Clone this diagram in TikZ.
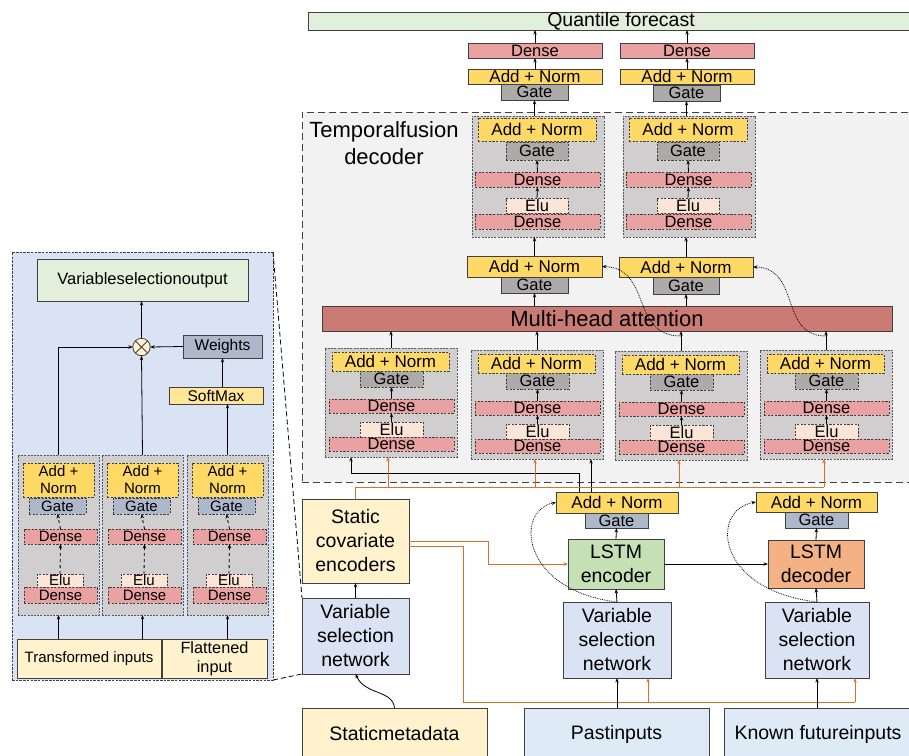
\documentclass[tikz,border=0pt]{standalone}
\usepackage{fontspec}
\setmainfont{Liberation Sans}
\usetikzlibrary{arrows.meta,calc}

\definecolor{cAdd}{HTML}{FFD966}
\definecolor{cGateG}{HTML}{AEAAAA}
\definecolor{cGateB}{HTML}{ADB9CA}
\definecolor{cDense}{HTML}{E9A1A1}
\definecolor{cElu}{HTML}{FBE5D6}
\definecolor{cGrn}{HTML}{D0CECE}
\definecolor{cDec}{HTML}{F2F2F2}
\definecolor{cAtt}{HTML}{CB7B74}
\definecolor{cOut}{HTML}{E2EFDA}
\definecolor{cEnc}{HTML}{C5E0B4}
\definecolor{cDecL}{HTML}{F4B183}
\definecolor{cVsn}{HTML}{DAE3F3}
\definecolor{cIn}{HTML}{DEEBF7}
\definecolor{cStat}{HTML}{FFF2CC}
\definecolor{cSoft}{HTML}{FFE699}
\definecolor{cOr}{HTML}{D4712E}
\definecolor{bord}{HTML}{404040}

\newcommand\fsz[2]{\fontsize{#1}{#2}\selectfont}
% box from corner (x1,y1) to corner (x2,y2)
\newcommand\bx[7]{\node[#2, minimum width={(#5)-(#3)}, minimum height={(#6)-(#4)}] (#1) at ({((#3)+(#5))/2},{((#4)+(#6))/2}) {#7};}

% gated residual network inside the temporal fusion decoder (lower row)
\newcommand\lgrn[3]{%
  \bx{#1}{grnbg}{#2}{#3}{#2+132}{#3+109}{}
  \bx{#1a}{dbx,an,fA}{#2+7}{#3+4}{#2+124}{#3+23}{Add + Norm}
  \bx{#1g}{dbx,gg,fB}{#2+35}{#3+23}{#2+98}{#3+39}{Gate}
  \bx{#1d}{dbx,de,fB}{#2+4}{#3+51}{#2+129}{#3+65}{Dense}
  \bx{#1e}{dbx,el,fB}{#2+35}{#3+74}{#2+98}{#3+89}{Elu}
  \bx{#1f}{dbx,de,fB}{#2+4}{#3+89}{#2+129}{#3+103}{Dense}
  \draw[arr] (#1d.north) -- (#1g.south);
  \draw[arr] (#1e.north) -- (#1d.south);
}
% gated residual network (upper row)
\newcommand\ugrn[3]{%
  \bx{#1}{grnbg}{#2}{#3}{#2+132}{#3+121}{}
  \bx{#1a}{dbx,an,fA}{#2+6}{#3+2}{#2+124}{#3+25}{Add + Norm}
  \bx{#1g}{dbx,gg,fB}{#2+34}{#3+26}{#2+96}{#3+44}{Gate}
  \bx{#1d}{dbx,de,fB}{#2+3}{#3+56}{#2+128}{#3+71}{Dense}
  \bx{#1e}{dbx,el,fB}{#2+34}{#3+82}{#2+96}{#3+97}{Elu}
  \bx{#1f}{dbx,de,fB}{#2+3}{#3+98}{#2+128}{#3+113}{Dense}
  \draw[arr] (#1d.north) -- (#1g.south);
  \draw[arr] (#1e.north) -- (#1d.south);
}
% gated residual network inside the variable selection panel
\newcommand\pgrn[3]{%
  \bx{#1}{grnbg}{#2}{#3}{#2+81}{#3+160}{}
  \bx{#1a}{dbx,an,fP}{#2+5}{#3+8}{#2+76}{#3+42}{Add +\\Norm}
  \bx{#1g}{dbx,gb,fP}{#2+11}{#3+43}{#2+68}{#3+59}{Gate}
  \bx{#1d}{dbx,de,fP}{#2+6}{#3+74}{#2+79}{#3+89}{Dense}
  \bx{#1e}{dbx,el,fP}{#2+19}{#3+119}{#2+65}{#3+132}{Elu}
  \bx{#1f}{dbx,de,fP}{#2+6}{#3+132}{#2+79}{#3+148}{Dense}
  \draw[arr,dashed] (#1d.north) -- (#1g.south);
  \draw[arr,dashed] (#1e.north) -- (#1d.south);
}

\begin{document}
\begin{tikzpicture}[x=1pt,y=-1pt,
  box/.style={draw=bord, line width=0.8pt, inner sep=0pt, outer sep=0pt, align=center},
  dbx/.style={box, dash pattern=on 2.2pt off 1.4pt},
  grnbg/.style={box, fill=cGrn, draw=black!65, dash pattern=on 2pt off 1.2pt},
  an/.style={fill=cAdd}, gg/.style={fill=cGateG}, gb/.style={fill=cGateB},
  de/.style={fill=cDense}, el/.style={fill=cElu},
  fA/.style={font=\fsz{17}{20}},
  fB/.style={font=\fsz{16.5}{19}},
  fP/.style={font=\fsz{15}{17}},
  fL/.style={font=\fsz{19.5}{24}},
  arr/.style={-{Stealth[length=4.5pt,width=3.4pt]}, line width=0.8pt, draw=black},
  oline/.style={line width=1pt, draw=cOr},
  oarr/.style={oline, -{Stealth[length=4.5pt,width=3.4pt]}},
  dotarr/.style={densely dotted, line width=0.8pt, -{Stealth[length=4.5pt,width=3.4pt]}},
  link/.style={line width=0.8pt, dash pattern=on 5pt off 3pt}
]
\useasboundingbox (0,0) rectangle (909,755);

% ---------- temporal fusion decoder ----------
\bx{dec}{box, fill=cDec, draw=black!75, line width=1pt, dash pattern=on 7pt off 4pt}{302}{112}{915}{482}{}
\node[font=\fsz{22}{27}, align=center] (dectitle) at (384,143) {Temporalfusion\\decoder};

\bx{qf}{box, fill=cOut, font=\fsz{19.5}{22}}{308}{12}{934}{30}{Quantile forecast}

\bx{tdL}{box,de,fB}{468}{43}{602}{58}{Dense}
\bx{tdR}{box,de,fB}{620}{43}{754}{58}{Dense}
\bx{taL}{box,an,fA}{468}{69}{602}{84}{Add + Norm}
\bx{taR}{box,an,fA}{620}{69}{754}{84}{Add + Norm}
\bx{tgL}{box,gg,fB}{501}{84}{568}{100}{Gate}
\bx{tgR}{box,gg,fB}{653}{85}{720}{101}{Gate}

\ugrn{uL}{472}{116}
\ugrn{uR}{623}{116}

\bx{maL}{box,an,fA}{467}{256}{602}{277}{Add + Norm}
\bx{mgL}{box,gg,fB}{501}{277}{568}{293}{Gate}
\bx{maR}{box,an,fA}{619}{257}{753}{277}{Add + Norm}
\bx{mgR}{box,gg,fB}{653}{277}{719}{294}{Gate}

\bx{att}{box, fill=cAtt, font=\fsz{22}{24}}{322}{306}{892}{331}{Multi-head attention}

\lgrn{lA}{325}{348}
\lgrn{lB}{471}{350}
\lgrn{lC}{615}{351}
\lgrn{lD}{760}{350}

% ---------- encoder / decoder stacks ----------
\bx{ea}{box,an,fA}{556}{492}{678}{513}{Add + Norm}
\bx{eg}{box,gb,fB}{585}{513}{648}{528}{Gate}
\bx{enc}{box, fill=cEnc, fL}{568}{539}{664}{589}{LSTM\\encoder}
\bx{da}{box,an,fA}{756}{492}{877}{512}{Add + Norm}
\bx{dg}{box,gb,fB}{785}{512}{848}{528}{Gate}
\bx{dl}{box, fill=cDecL, fL}{768}{540}{864}{588}{LSTM\\decoder}

\bx{sce}{box, fill=cStat, fL}{302}{499}{409}{583}{Static\\covariate\\encoders}
\bx{vs}{box, fill=cVsn, fL}{302}{598}{409}{674}{Variable\\selection\\network}
\bx{vp}{box, fill=cVsn, fL}{563}{602}{671}{678}{Variable\\selection\\network}
\bx{vf}{box, fill=cVsn, fL}{765}{602}{869}{678}{Variable\\selection\\network}

\bx{meta}{box, fill=cStat, fL}{302}{708}{487}{760}{Staticmetadata}
\bx{pin}{box, fill=cIn, fL}{524}{708}{709}{760}{Pastinputs}
\bx{kin}{box, fill=cIn, fL}{724}{708}{912}{760}{Known futureinputs}

% ---------- variable selection network detail ----------
\bx{panel}{box, fill=cVsn, draw=black!75, dash pattern=on 2.5pt off 1.2pt}{12}{252}{273}{680}{}
\bx{vso}{box, fill=cOut, font=\fsz{16.5}{19}}{37}{259}{248}{301}{Variableselectionoutput}
\bx{wt}{box, fill=cGateB, font=\fsz{15.5}{18}}{183}{335}{262}{358}{Weights}
\bx{sm}{box, fill=cSoft, font=\fsz{15.5}{18}}{169}{387}{263}{404}{SoftMax}
\node[circle, draw=bord, fill=cStat, line width=0.8pt, minimum size=17.4pt, inner sep=0pt, outer sep=0pt] (cir) at (141.5,347) {};
\draw[bord, line width=0.8pt] (cir.45) -- (cir.225) (cir.135) -- (cir.315);

\pgrn{pa}{18}{455}
\pgrn{pb}{102}{455}
\pgrn{pc}{187}{455}

\bx{ti}{box, fill=cStat, font=\fsz{15}{17}}{17}{639}{161}{678}{Transformed inputs}
\bx{fi}{box, fill=cStat, font=\fsz{16.3}{19}}{162}{639}{267}{678}{Flattened\\input}

% ---------- connectors: output head ----------
\draw[arr] (tdL.north) -- (tdL.north |- qf.south);
\draw[arr] (tdR.north) -- (tdR.north |- qf.south);
\draw[arr] (taL.north) -- (tdL.south);
\draw[arr] (taR.north) -- (tdR.south);
\draw[arr] (tgL.south |- uL.north) -- (tgL.south);
\draw[arr] (tgR.south |- uR.north) -- (tgR.south);
\draw[arr] (mgL.south |- maL.north) -- (mgL.south |- uL.south);
\draw[arr] (mgR.south |- maR.north) -- (mgR.south |- uR.south);
\draw[arr] (mgL.south |- att.north) -- (mgL.south);
\draw[arr] (mgR.south |- att.north) -- (mgR.south);

% ---------- connectors: attention inputs ----------
\draw[arr] (lA.north) -- (lA.north |- att.south);
\draw[arr] (lB.north) -- (lB.north |- att.south);
\draw[arr] (lC.north) -- (lC.north |- att.south);
\draw[arr] (lD.north) -- (lD.north |- att.south);
\coordinate (skC) at (681,336);
\coordinate (skD) at (826,336);
\draw[dotarr] (skC) .. controls (630,336) and (652,268) .. (maL.east);
\draw[dotarr] (skD) .. controls (779,336) and (801,268) .. (maR.east);

% ---------- connectors: into the decoder GRNs ----------
\draw[arr] (579,0 |- ea.north) |- (351,473) -- (351,0 |- lA.south);
\draw[arr] (591,0 |- ea.north) -- (591,0 |- lB.south);
\draw[oline] (sce.north) -- (sce.north |- 0,487) -- (824,487);
\draw[oarr] (388,487) -- (388,0 |- lA.south);
\draw[oarr] (535,487) -- (535,0 |- lB.south);
\draw[oarr] (679,487) -- (679,0 |- lC.south);
\draw[oarr] (824,487) -- (824,0 |- lD.south);

% ---------- connectors: static enrichment ----------
\draw[oarr] (sce.east) -| (488,564) -- (enc.west);
\draw[oline] ([yshift=-5pt]sce.east) -| (463,702) -- (855,702);
\draw[oarr] (648,702) -- (648,0 |- vp.south);
\draw[oarr] (855,702) -- (855,0 |- vf.south);

% ---------- connectors: encoder / decoder ----------
\draw[arr] (pin.north -| vp.south) -- (vp.south);
\draw[arr] (kin.north -| vf.south) -- (vf.south);
\draw[arr] (vp.north) -- (enc.south);
\draw[arr] (vf.north) -- (dl.south);
\draw[arr] (enc.north) -- (eg.south);
\draw[arr] (dl.north) -- (dg.south);
\draw[arr] (enc.east) -- (dl.west);
\draw[dotarr] (vp.north) .. controls (520,590) and (515,510) .. (ea.west);
\draw[dotarr] (vf.north) .. controls (715,590) and (710,510) .. (da.west);
\draw[arr] (vs.north) -- (sce.south);
\draw[arr] (meta.north) .. controls (393,690) and (365,695) .. (vs.south);

% ---------- connectors: selection panel ----------
\draw[link] (panel.north east) -- (vs.north west);
\draw[link] (panel.south east) -- (vs.south west);
\draw[arr] (pa.north) |- (cir.west);
\draw[arr] (pb.north) -- (cir.south);
\draw[arr] (cir.north) -- (cir.north |- vso.south);
\draw[arr] (wt.west) -- (cir.east);
\draw[arr] (wt.south |- sm.north) -- (wt.south);
\draw[arr] (pc.north) -- (pc.north |- sm.south);
\draw[arr] (ti.north -| pa.south) -- (pa.south);
\draw[arr] (ti.north -| pb.south) -- (pb.south);
\draw[arr] (fi.north -| pc.south) -- (pc.south);
\end{tikzpicture}
\end{document}
